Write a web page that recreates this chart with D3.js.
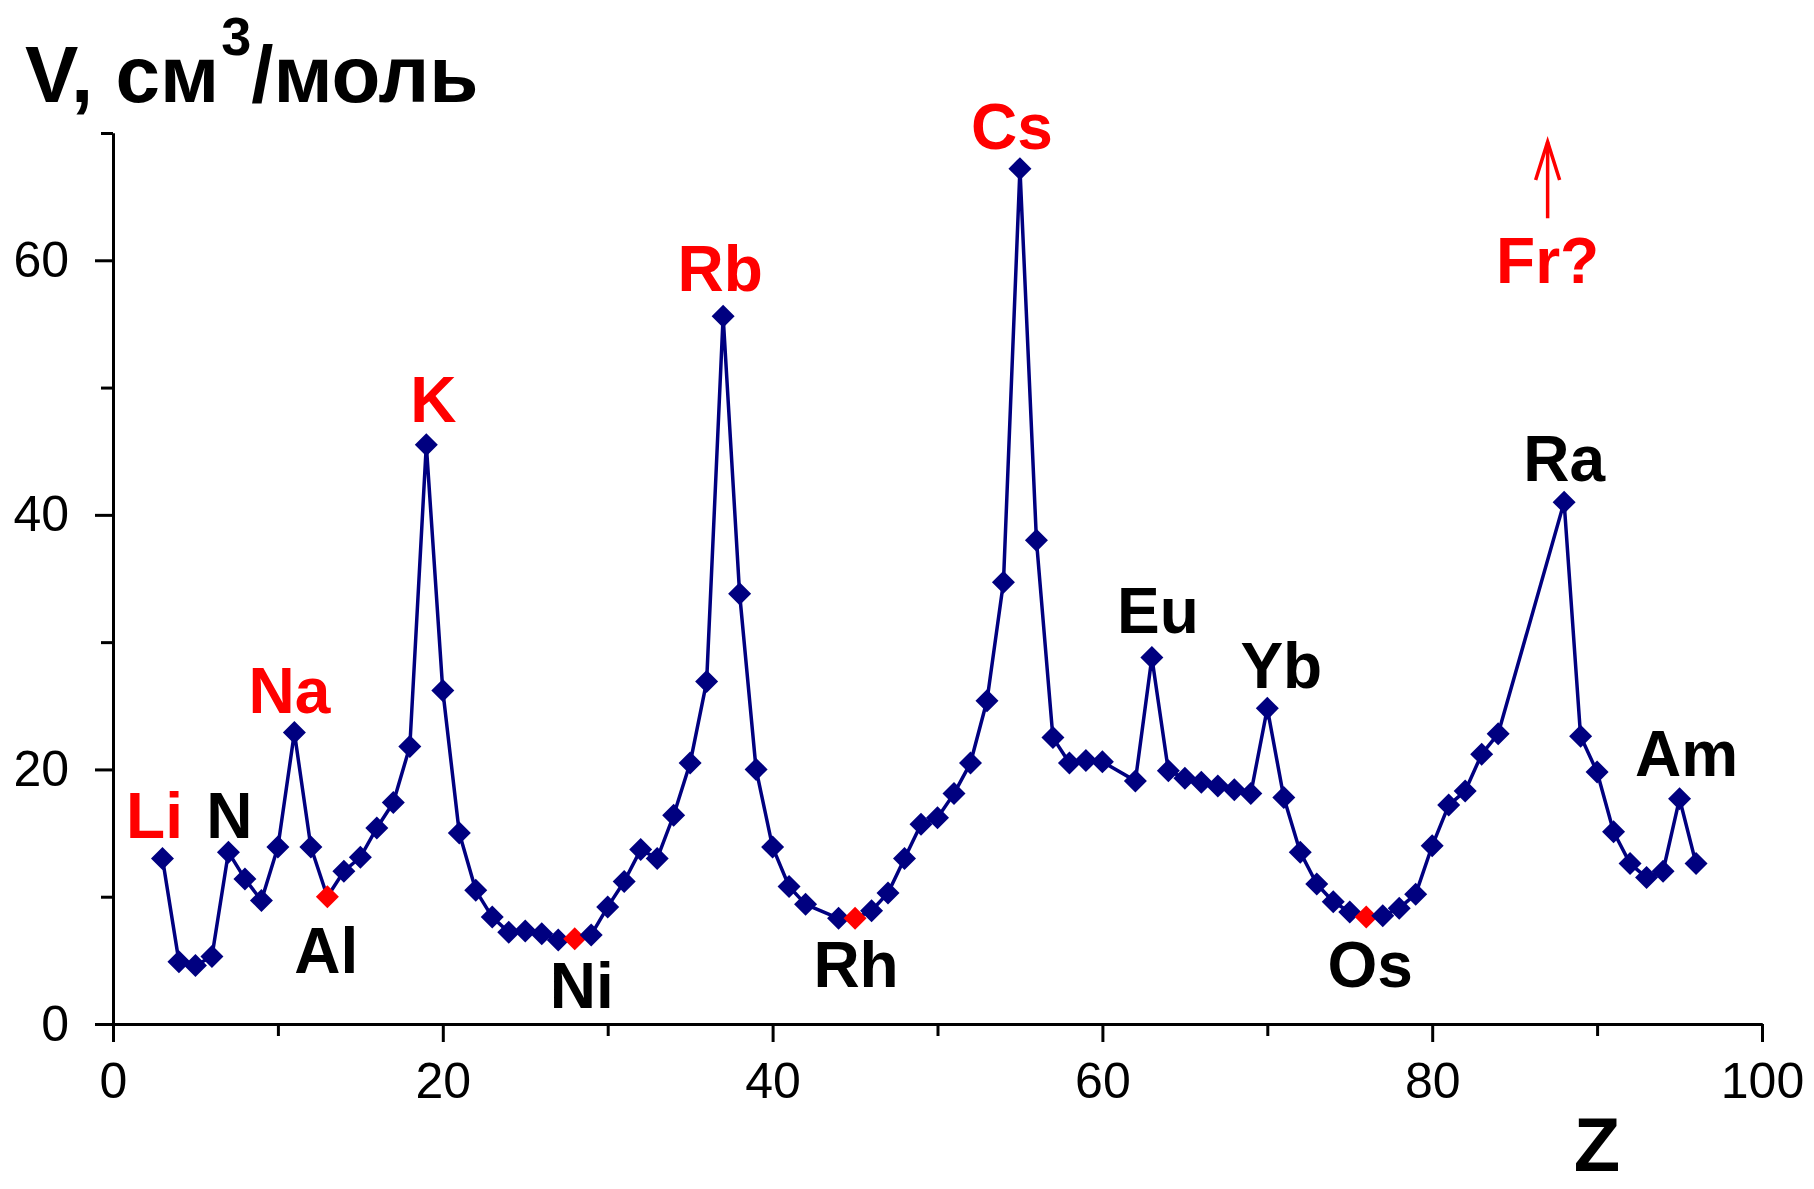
<!DOCTYPE html>
<html>
<head>
<meta charset="utf-8">
<script src="https://cdn.jsdelivr.net/npm/d3@7"></script>
<style>
body { margin: 0; background: #fff; }
svg { display: block; }
</style>
</head>
<body>
<script>
// atomic number (Z) and molar volume V, cm3/mol
var Z = [3, 4, 5, 6, 7, 8, 9, 10, 11, 12, 13, 14, 15, 16, 17, 18, 19, 20,
  21, 22, 23, 24, 25, 26, 27, 28, 29, 30, 31, 32, 33, 34, 35, 36, 37, 38,
  39, 40, 41, 42, 44, 45, 46, 47, 48, 49, 50, 51, 52, 53, 54, 55, 56,
  57, 58, 59, 60, 62, 63, 64, 65, 66, 67, 68, 69, 70, 71, 72, 73, 74,
  75, 76, 77, 78, 79, 80, 81, 82, 83, 84, 88, 89, 90, 91, 92, 93, 94, 95, 96];
var V = [13.0, 4.9, 4.6, 5.3, 13.5, 11.4, 9.7, 13.9, 22.9, 13.9, 10.0, 12.0, 13.1, 15.4, 17.4, 21.8, 45.5, 26.2,
  15.0, 10.5, 8.4, 7.2, 7.3, 7.1, 6.6, 6.7, 7.0, 9.2, 11.2, 13.7, 13.0, 16.4, 20.5, 26.9, 55.6, 33.8,
  20.0, 13.9, 10.8, 9.4, 8.3, 8.3, 8.9, 10.3, 13.0, 15.7, 16.2, 18.1, 20.5, 25.4, 34.7, 67.2, 38.0,
  22.5, 20.5, 20.7, 20.6, 19.1, 28.8, 19.9, 19.3, 19.0, 18.7, 18.4, 18.1, 24.8, 17.8, 13.5, 11.0, 9.6,
  8.8, 8.4, 8.5, 9.1, 10.2, 14.0, 17.2, 18.3, 21.2, 22.8, 41.0, 22.6, 19.8, 15.1, 12.6, 11.5, 12.0, 17.7, 12.6];

// minima marked in red
var redZ = [13, 28, 45, 76];

// labelled elements
var labelText = ["Li", "N", "Na", "Al", "K", "Ni", "Rb", "Rh", "Cs", "Eu", "Yb", "Os", "Ra", "Am"];
var labelZ = [3, 7, 11, 13, 19, 28, 37, 45, 55, 63, 70, 76, 88, 95];
var alkali = ["Li", "Na", "K", "Rb", "Cs"];

// Fr? annotation (no data point)
var frZ = 87;
var frArrow = [63.3, 69.3];
var frLabelV = 58.2;

var xTicks = [0, 20, 40, 60, 80, 100];
var xMinor = [10, 30, 50, 70, 90];
var yTicks = [0, 20, 40, 60];
var yMinor = [10, 30, 50, 70];

// label offsets from the point (px): [dx, dy to baseline]
var labelOffset = {
  Li: [-8, -21], N: [1, -14], Na: [-5, -20], Al: [-1, 76], K: [7, -23],
  Ni: [7, 69], Rb: [-3, -25], Rh: [1, 69], Cs: [-8, -20], Eu: [6, -24],
  Yb: [14, -20], Os: [4, 70], Ra: [0, -21], Am: [7, -23]
};

var width = 1814, height = 1189;
var font = "'Liberation Sans', Arial, sans-serif";
var navy = "#000080", red = "#ff0000";

var svg = d3.select("body").append("svg")
  .attr("width", width)
  .attr("height", height);

svg.append("rect").attr("width", width).attr("height", height).attr("fill", "#fff");

var x = d3.scaleLinear().domain([0, 100]).range([113, 1762]);
var y = d3.scaleLinear().domain([0, 70]).range([1024, 133]);

// axes: minor ticks short, major ticks longer with labels
svg.append("g")
  .attr("class", "axis")
  .attr("transform", "translate(0," + y(0) + ")")
  .call(d3.axisBottom(x).tickValues(xMinor).tickSize(12).tickSizeOuter(0).tickFormat(""));
svg.append("g")
  .attr("class", "axis")
  .attr("transform", "translate(0," + y(0) + ")")
  .call(d3.axisBottom(x).tickValues(xTicks).tickSize(18).tickSizeOuter(0).tickPadding(20));

svg.append("g")
  .attr("class", "axis")
  .attr("transform", "translate(" + x(0) + ",0)")
  .call(d3.axisLeft(y).tickValues(yMinor).tickSize(12).tickSizeOuter(0).tickFormat(""));
svg.append("g")
  .attr("class", "axis")
  .attr("transform", "translate(" + x(0) + ",0)")
  .call(d3.axisLeft(y).tickValues(yTicks).tickSize(18).tickSizeOuter(0).tickPadding(26));

svg.selectAll(".axis path, .axis line")
  .attr("stroke", "#000")
  .attr("stroke-width", 3);
svg.selectAll(".axis text")
  .attr("fill", "#000")
  .style("font-family", font)
  .style("font-size", "50px");

// line + markers
var pts = Z.map(function (z, i) { return { z: z, v: V[i] }; });

svg.append("path")
  .datum(pts)
  .attr("fill", "none")
  .attr("stroke", navy)
  .attr("stroke-width", 3.5)
  .attr("stroke-linejoin", "round")
  .attr("d", d3.line().x(function (d) { return x(d.z); }).y(function (d) { return y(d.v); }));

svg.selectAll(".pt")
  .data(pts)
  .enter()
  .append("path")
  .attr("class", "pt")
  .attr("d", "M0,-11.5L11.5,0L0,11.5L-11.5,0Z")
  .attr("transform", function (d) { return "translate(" + x(d.z) + "," + y(d.v) + ")"; })
  .attr("fill", function (d) { return redZ.indexOf(d.z) >= 0 ? red : navy; });

// element labels
svg.selectAll(".lbl")
  .data(labelText)
  .enter()
  .append("text")
  .attr("class", "lbl")
  .attr("x", function (d, i) { return x(labelZ[i]) + labelOffset[d][0]; })
  .attr("y", function (d, i) { return y(V[Z.indexOf(labelZ[i])]) + labelOffset[d][1]; })
  .attr("text-anchor", "middle")
  .attr("fill", function (d) { return alkali.indexOf(d) >= 0 ? red : "#000"; })
  .style("font-family", font)
  .style("font-weight", "bold")
  .style("font-size", "64px")
  .text(function (d) { return d; });

// Fr? with arrow
var fx = x(frZ);
svg.append("line")
  .attr("x1", fx).attr("x2", fx)
  .attr("y1", y(frArrow[0])).attr("y2", y(frArrow[1]))
  .attr("stroke", red).attr("stroke-width", 3.5);
svg.append("path")
  .attr("d", "M" + (fx - 12) + "," + (y(frArrow[1]) + 38) + "L" + fx + "," + y(frArrow[1]) + "L" + (fx + 12) + "," + (y(frArrow[1]) + 38))
  .attr("fill", "none").attr("stroke", red).attr("stroke-width", 3.5);
svg.append("text")
  .attr("x", fx)
  .attr("y", y(frLabelV))
  .attr("text-anchor", "middle")
  .attr("fill", red)
  .style("font-family", font)
  .style("font-weight", "bold")
  .style("font-size", "64px")
  .text("Fr?");

// axis titles
var title = svg.append("text")
  .attr("x", 25)
  .attr("y", 102)
  .attr("fill", "#000")
  .style("font-family", font)
  .style("font-weight", "bold")
  .style("font-size", "80px");
title.append("tspan").text("V, см");
title.append("tspan").attr("dy", -47).attr("dx", 2).style("font-size", "54px").text("3");
title.append("tspan").attr("dy", 47).attr("dx", 0).text("/моль");

svg.append("text")
  .attr("x", 1597)
  .attr("y", 1171)
  .attr("text-anchor", "middle")
  .attr("fill", "#000")
  .style("font-family", font)
  .style("font-weight", "bold")
  .style("font-size", "76px")
  .text("Z");
</script>
</body>
</html>
